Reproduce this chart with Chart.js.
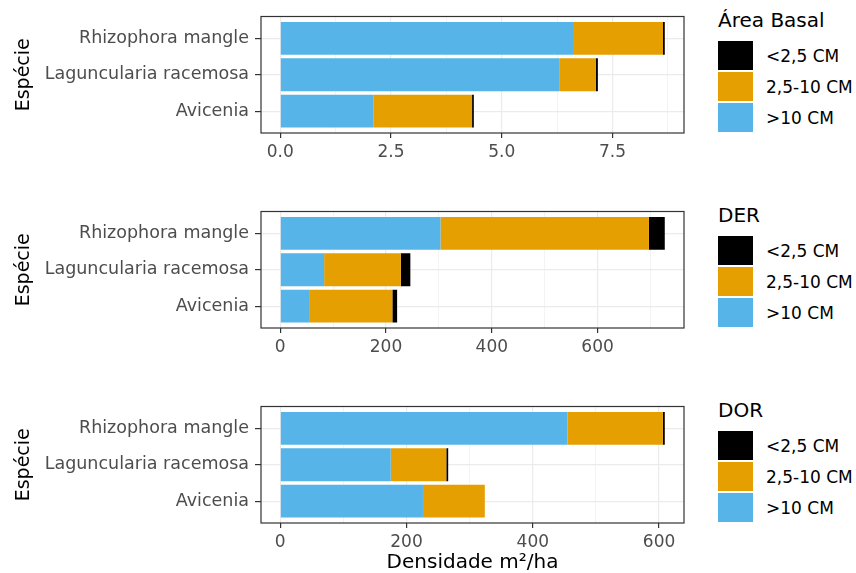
<!DOCTYPE html>
<html>
<head>
<meta charset="utf-8">
<script src="https://cdn.jsdelivr.net/npm/chart.js@4.4.1/dist/chart.umd.min.js"></script>
<style>
  body { margin: 0; background: #fff; font-family: "DejaVu Sans", sans-serif; }
  #page { position: relative; width: 856px; height: 573px; overflow: hidden; }
  canvas { position: absolute; left: 0; }
  .legend { position: absolute; left: 718px; }
  .legend-title { font-size: 20px; line-height: 20px; height: 20px; color: #000; margin-top: 10px; }
  .legend-rows { margin-top: 11px; }
  .legend-row { display: flex; align-items: center; height: 29px; margin-bottom: 2px; }
  .legend-key { width: 35px; height: 29px; }
  .legend-label { margin-left: 13px; font-size: 17px; color: #000; }
</style>
</head>
<body>
<div id="page">
  <canvas id="basalChart" width="700" height="195" style="top:0px"></canvas>
  <canvas id="derChart" width="700" height="195" style="top:195px"></canvas>
  <canvas id="dorChart" width="700" height="183" style="top:390px"></canvas>
  <div class="legend" id="basalLegend" style="top:0px"></div>
  <div class="legend" id="derLegend" style="top:195px"></div>
  <div class="legend" id="dorLegend" style="top:390px"></div>
</div>
<script>
// Species, top to bottom
const species = ["Rhizophora mangle", "Laguncularia racemosa", "Avicenia"]

// Diameter classes (stacking order: first one starts at 0)
const classLabels = [">10 CM", "2,5-10 CM", "<2,5 CM"]
const classColors = ["#56B4E9", "#E69F00", "#000000"]

// Area Basal, per class, per species
const basalBig = [6.63, 6.31, 2.11]
const basalMid = [2.01, 0.81, 2.22]
const basalSmall = [0.04, 0.05, 0.04]
const basalTicks = [0, 2.5, 5, 7.5]
const basalMinor = [1.25, 3.75, 6.25, 8.75]

// DER
const derBig = [303, 83, 56]
const derMid = [394, 145, 156]
const derSmall = [30, 18, 9]
const derTicks = [0, 200, 400, 600]
const derMinor = [100, 300, 500, 700]

// DOR
const dorBig = [455, 175, 226]
const dorMid = [151, 88, 98]
const dorSmall = [3, 3, 0]
const dorTicks = [0, 200, 400, 600]
const dorMinor = [100, 300, 500]

Chart.defaults.font.family = "DejaVu Sans"
Chart.defaults.animation = false

// ggplot-like panel frame
const panelBorder = {
  id: "panelBorder",
  afterDatasetsDraw(chart) {
    const { ctx, chartArea } = chart
    ctx.save()
    ctx.strokeStyle = "#333333"
    ctx.lineWidth = 1.2
    ctx.strokeRect(chartArea.left, chartArea.top, chartArea.right - chartArea.left, chartArea.bottom - chartArea.top)
    ctx.restore()
  },
}

function makePanel(canvasId, series, majors, minors, decimals, showXTitle, xHeight) {
  const maxTotal = Math.max(...species.map((s, i) => series[0][i] + series[1][i] + series[2][i]))
  const allTicks = majors.concat(minors).sort((a, b) => a - b)

  return new Chart(document.getElementById(canvasId), {
    type: "bar",
    data: {
      datasets: series.map((values, k) => ({
        label: classLabels[k],
        data: values.map((v, i) => ({ x: v, y: i + 1 })),
        backgroundColor: classColors[k],
        borderWidth: 0,
        stack: "sp",
        categoryPercentage: 0.9,
        barPercentage: 1,
      })),
    },
    options: {
      indexAxis: "y",
      responsive: false,
      layout: { padding: { top: 9, right: 16, left: 0, bottom: 0 } },
      plugins: { legend: { display: false }, tooltip: { enabled: false } },
      scales: {
        x: {
          type: "linear",
          stacked: true,
          min: -0.05 * maxTotal,
          max: 1.05 * maxTotal,
          afterBuildTicks: (scale) => {
            scale.ticks = allTicks.map((v) => ({ value: v }))
          },
          afterFit: (scale) => {
            scale.height = xHeight
          },
          ticks: {
            autoSkip: false,
            maxRotation: 0,
            color: "#4D4D4D",
            font: { size: 17 },
            padding: 4,
            callback: (v) => (majors.includes(v) ? v.toFixed(decimals) : ""),
          },
          grid: {
            color: "#EBEBEB",
            lineWidth: (ctx) => (ctx.tick && majors.includes(ctx.tick.value) ? 1.2 : 0.6),
            tickColor: (ctx) => (ctx.tick && majors.includes(ctx.tick.value) ? "#333333" : "rgba(0,0,0,0)"),
            tickLength: 5,
            tickWidth: 1.2,
          },
          border: { display: false },
          title: {
            display: showXTitle,
            text: "Densidade m²/ha",
            color: "#000",
            font: { size: 20, lineHeight: 1 },
            padding: 0,
          },
        },
        y: {
          type: "linear",
          reverse: true,
          offset: false,
          min: 0.4,
          max: 3.6,
          afterBuildTicks: (scale) => {
            scale.ticks = species.map((s, i) => ({ value: i + 1 }))
          },
          afterFit: (scale) => {
            scale.width = 261
          },
          ticks: {
            color: "#4D4D4D",
            font: { size: 17.5 },
            padding: 6,
            callback: (v) => species[v - 1],
          },
          grid: {
            offset: false,
            color: "#EBEBEB",
            lineWidth: 1.2,
            tickColor: "#333333",
            tickLength: 6,
            tickWidth: 1.2,
          },
          border: { display: false },
          title: {
            display: true,
            text: "Espécie",
            color: "#000",
            font: { size: 19, lineHeight: 1 },
            padding: { top: 15, bottom: 0 },
          },
        },
      },
    },
    plugins: [panelBorder],
  })
}

function makeLegend(elId, title) {
  const el = document.getElementById(elId)
  // legend lists the classes from small to large
  const order = [2, 1, 0]
  el.innerHTML =
    `<div class="legend-title">${title}</div><div class="legend-rows">` +
    order
      .map(
        (k) => `
      <div class="legend-row">
        <div class="legend-key" style="background:${classColors[k]}"></div>
        <div class="legend-label">${classLabels[k]}</div>
      </div>`,
      )
      .join("") +
    `</div>`
}

makePanel("basalChart", [basalBig, basalMid, basalSmall], basalTicks, basalMinor, 1, false, 62)
makePanel("derChart", [derBig, derMid, derSmall], derTicks, derMinor, 0, false, 62)
makePanel("dorChart", [dorBig, dorMid, dorSmall], dorTicks, dorMinor, 0, true, 50)

makeLegend("basalLegend", "Área Basal")
makeLegend("derLegend", "DER")
makeLegend("dorLegend", "DOR")
</script>
</body>
</html>
